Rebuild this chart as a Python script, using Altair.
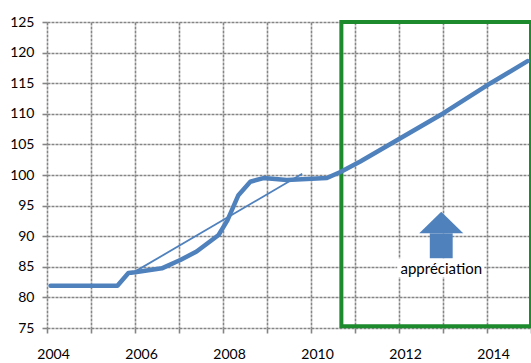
import altair as alt
import pandas as pd

# Index trajectory (thick line)
years = [2004.08, 2005.6, 2005.85, 2006.0, 2006.61, 2007.03, 2007.4, 2007.9,
         2008.1, 2008.35, 2008.62, 2008.92, 2009.45, 2010.36, 2010.67, 2011.12, 2012.03,
         2013.01, 2014.08, 2014.92]
index = [81.9, 81.9, 84.0, 84.1, 84.75, 86.1, 87.5, 90.2,
         92.6, 96.7, 98.9, 99.5, 99.2, 99.5, 100.5, 102.2, 106.0,
         110.1, 115.0, 118.6]

# Trend line (thin)
trend_years = [2005.9, 2009.8]
trend_values = [83.8, 100.2]

# Highlighted projection window
window_x = [2010.69]
window_x2 = [2015.0]
window_y = [75.3]
window_y2 = [125.0]

# Arrow annotation
arrow_label = ["appréciation"]
arrow_center = [2012.96]
arrow_head_half = 0.5
arrow_shaft_half = 0.26
arrow_tip = 94.0
arrow_head_base = 90.47
arrow_shaft_bottom = 86.4

BLUE = "#4f81bd"
GREEN = "#1d8a2e"
GRID = "#858585"
FONT = "Lato"

x_scale = alt.Scale(domain=[2004, 2015], nice=False, zero=False)
y_scale = alt.Scale(domain=[75, 125], nice=False, zero=False)

x_axis = alt.Axis(values=list(range(2004, 2016)),
                  labelExpr="datum.value % 2 == 0 ? datum.label : ''",
                  format="d", title=None, grid=True, domain=False, labelFlush=False,
                  tickSize=5, labelPadding=14, labelOffset=6, labelOverlap=False)
y_axis = alt.Axis(values=list(range(75, 126, 5)), title=None, grid=True,
                  domain=False, tickSize=5, labelPadding=8, labelOverlap=False)


def X(field):
    return alt.X(field, type="quantitative", scale=x_scale, axis=x_axis)


def Y(field):
    return alt.Y(field, type="quantitative", scale=y_scale, axis=y_axis)


df_line = pd.DataFrame({"year": years, "value": index})
df_trend = pd.DataFrame({"year": trend_years, "value": trend_values})
df_win = pd.DataFrame({"x": window_x, "x2": window_x2, "y": window_y, "y2": window_y2})

c = arrow_center[0]
df_head = pd.DataFrame({
    "x": [c - arrow_head_half, c, c + arrow_head_half],
    "y": [arrow_head_base, arrow_tip, arrow_head_base],
    "y2": [arrow_head_base] * 3,
})
df_shaft = pd.DataFrame({"x": [c - arrow_shaft_half], "x2": [c + arrow_shaft_half],
                         "y": [arrow_shaft_bottom], "y2": [arrow_head_base]})
df_label = pd.DataFrame({"x": arrow_center, "y": [84.6], "text": arrow_label})
df_label_bg = pd.DataFrame({"x": [2011.96], "x2": [2013.94], "y": [83.3], "y2": [86.35]})

window = alt.Chart(df_win).mark_rect(fillOpacity=0, stroke=GREEN, strokeWidth=4).encode(
    x=X("x"), x2="x2", y=Y("y"), y2="y2",
)

trend = alt.Chart(df_trend).mark_line(color=BLUE, strokeWidth=1.8).encode(
    x=X("year"), y=Y("value"),
)

base_line = alt.Chart(df_line).mark_line(color=BLUE, strokeWidth=4.5, strokeJoin="round",
                                         strokeCap="round").encode(
    x=X("year"), y=Y("value"),
)

label_bg = alt.Chart(df_label_bg).mark_rect(color="white").encode(
    x=X("x"), x2="x2", y=Y("y"), y2="y2",
)

head = alt.Chart(df_head).mark_area(color=BLUE, opacity=1).encode(
    x=X("x"), y=Y("y"), y2="y2",
)

shaft = alt.Chart(df_shaft).mark_rect(color=BLUE).encode(
    x=X("x"), x2="x2", y=Y("y"), y2="y2",
)

label = alt.Chart(df_label).mark_text(font=FONT, fontSize=15, color="black",
                                      baseline="middle", align="center").encode(
    x=X("x"), y=Y("y"), text="text:N",
)

chart = alt.layer(window, trend, base_line, label_bg, shaft, head, label).properties(
    width=484, height=306,
    background="white",
    autosize=alt.AutoSizeParams(type="none"),
    padding={"left": 47, "top": 22, "right": 0, "bottom": 35},
).configure_axis(
    gridColor=GRID, gridWidth=1.6, gridDash=[3, 1], gridOpacity=1,
    tickColor=GRID, tickWidth=1.6,
    labelFont=FONT, labelFontSize=14, labelColor="black",
).configure_view(stroke=None)

chart.save("out.html", embed_options={"renderer": "svg", "actions": False})
